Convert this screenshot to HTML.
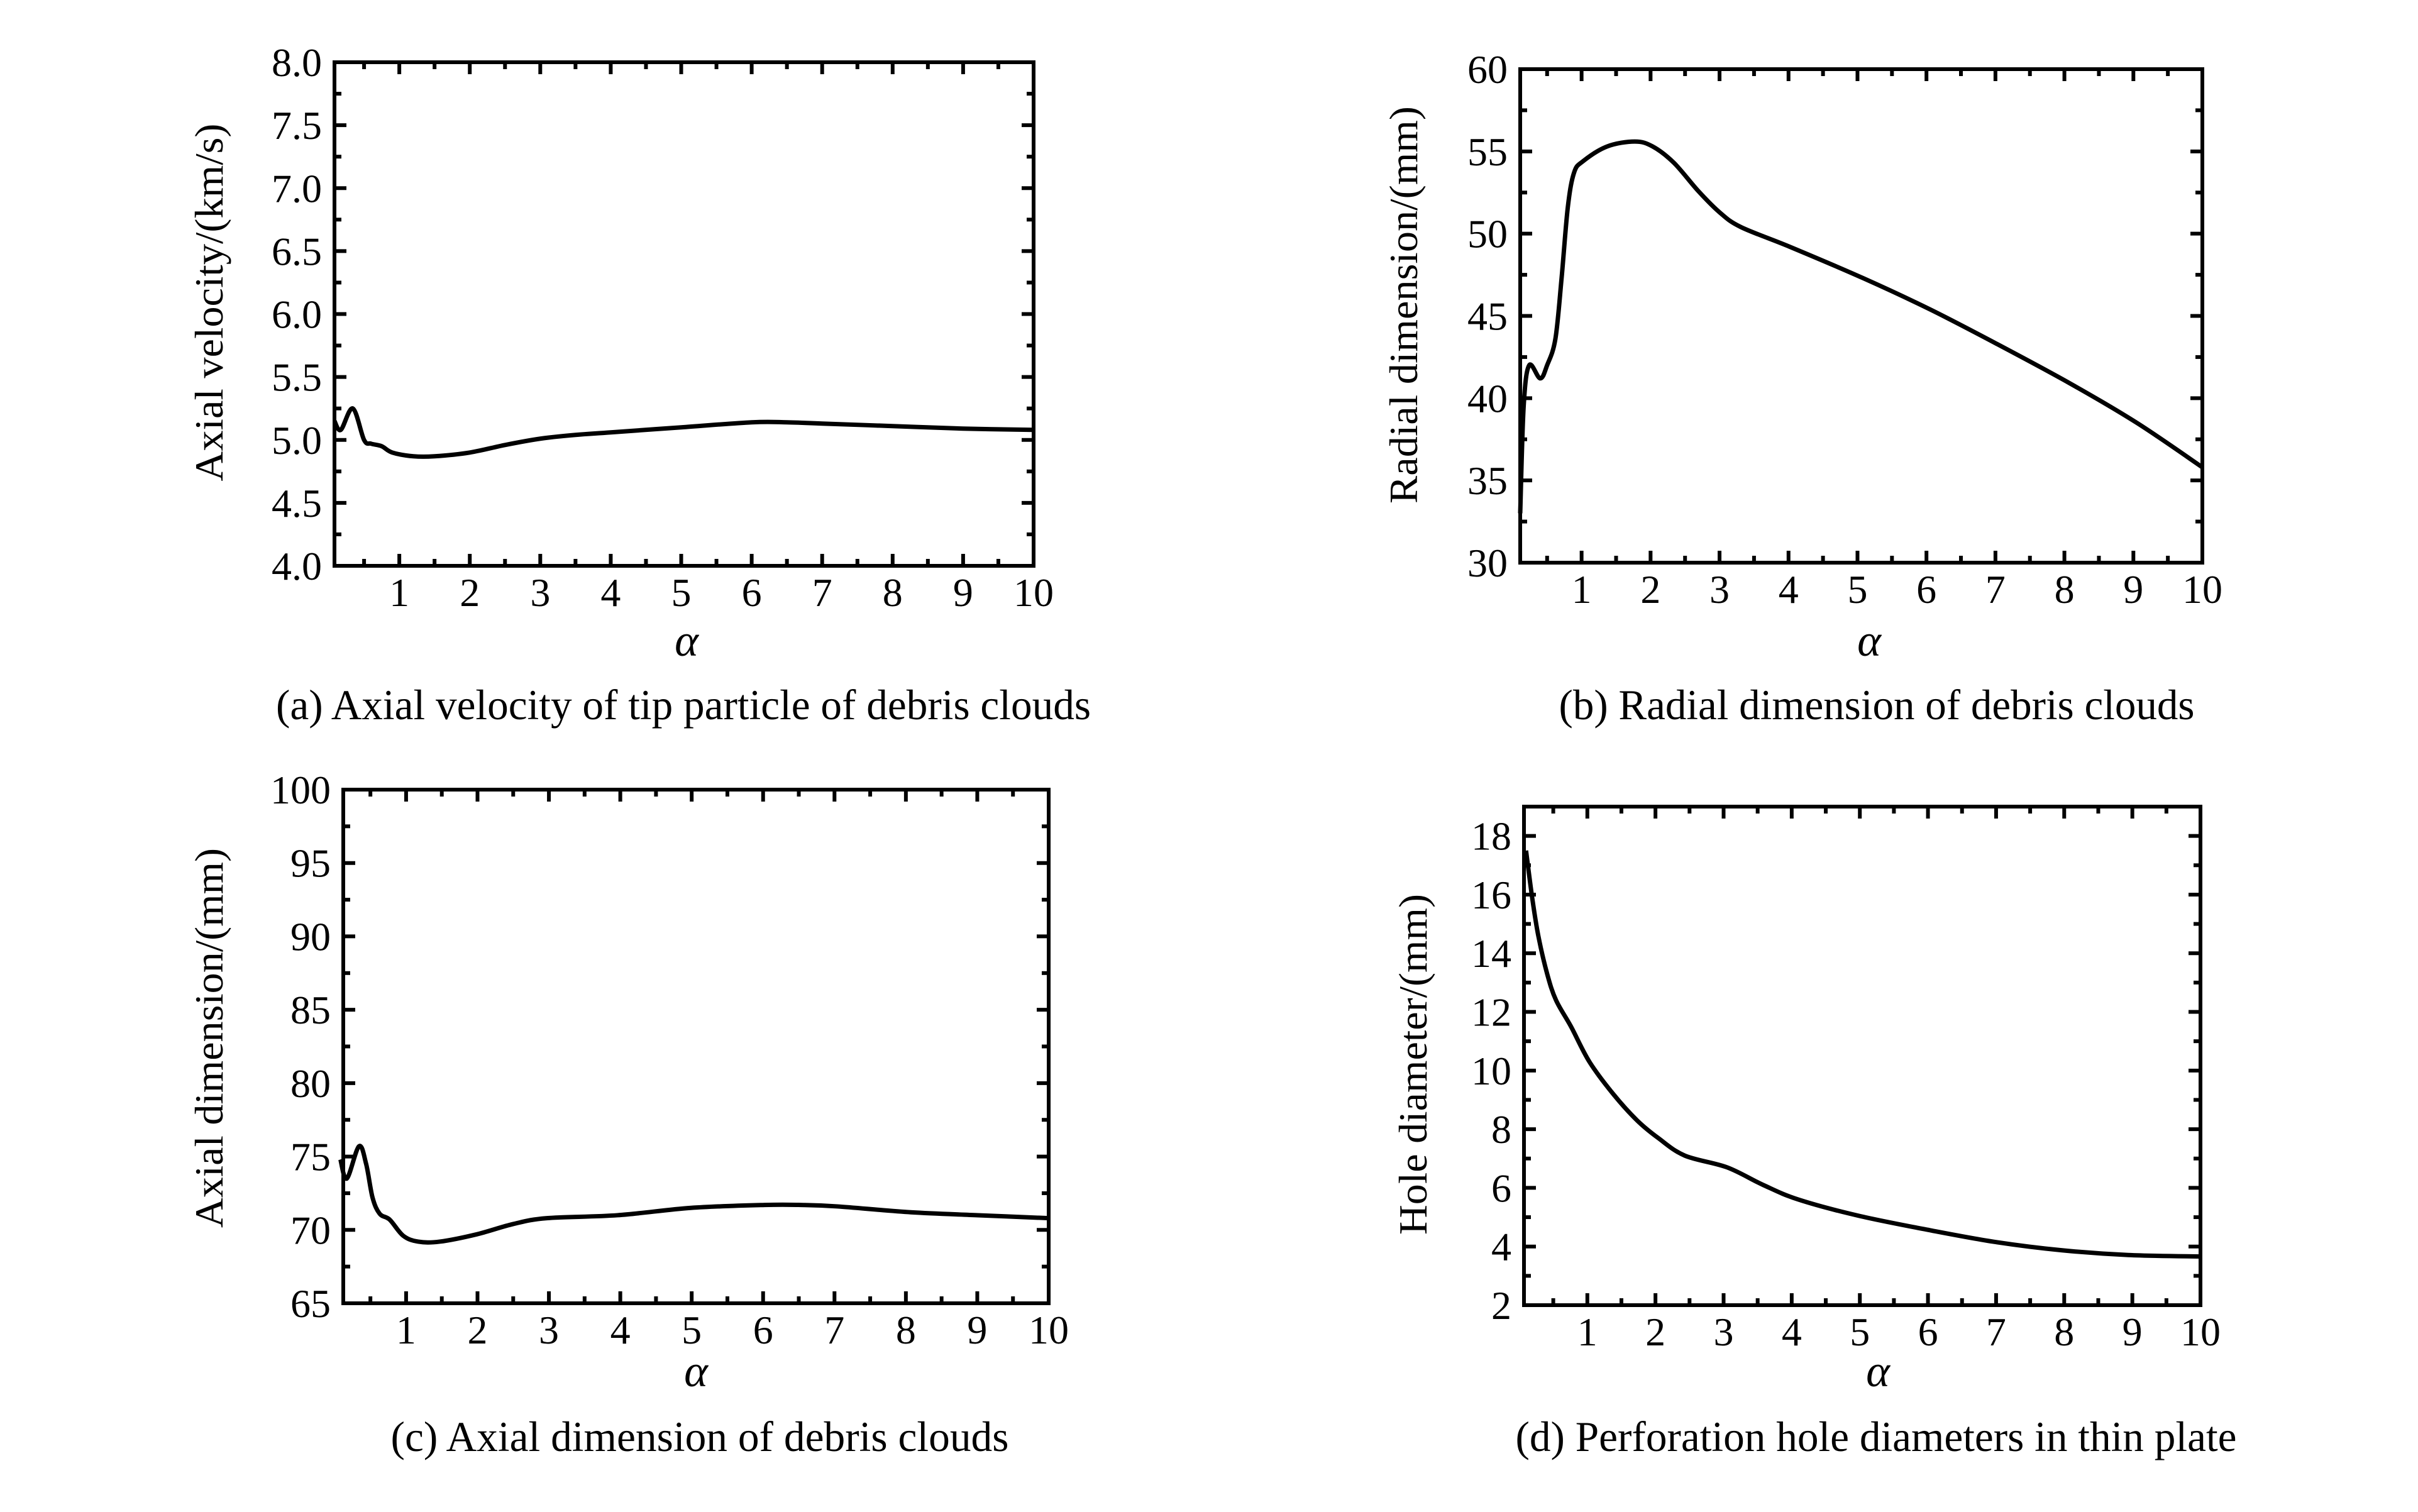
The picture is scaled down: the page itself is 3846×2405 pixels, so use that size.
<!DOCTYPE html>
<html><head><meta charset="utf-8"><style>
html,body{margin:0;padding:0;background:#fff;}
svg{display:block;}
text{font-family:"Liberation Serif",serif;fill:#000;}
</style></head><body>
<svg id="fig" width="3846" height="2405" viewBox="0 0 3846 2405" xmlns="http://www.w3.org/2000/svg"></svg>
<script>
// Panel (a) data
const aX = [0.08,0.17,0.34,0.5,0.6,0.75,0.9,1.2,1.5,2,2.5,3,3.5,4,5,6,6.5,7,8,9,10];
const aY = [5.15,5.08,5.25,5.0,4.97,4.95,4.9,4.87,4.87,4.9,4.96,5.01,5.04,5.06,5.1,5.14,5.14,5.13,5.11,5.09,5.08];
const aYTicks = ["4.0","4.5","5.0","5.5","6.0","6.5","7.0","7.5","8.0"];
// Panel (b) data
const bX = [0.11,0.16,0.24,0.4,0.5,0.62,0.71,0.8,0.89,1.02,1.37,1.77,2.03,2.34,2.69,3.0,3.31,4.02,5.08,6.05,7.02,8.08,9.05,10];
const bY = [33,39.5,42.0,41.2,42,43.6,47.3,51.6,53.7,54.4,55.3,55.6,55.3,54.3,52.6,51.3,50.4,49.2,47.3,45.4,43.3,40.9,38.5,35.8];
const bYTicks = ["30","35","40","45","50","55","60"];
// Panel (c) data
const cX = [0.08,0.17,0.34,0.44,0.53,0.63,0.77,0.96,1.17,1.47,1.99,2.5,2.97,3.96,4.99,6.02,6.53,7.04,8.07,9.01,10];
const cY = [74.8,73.5,75.7,74.5,72.2,71.1,70.7,69.6,69.2,69.2,69.7,70.4,70.8,71.0,71.5,71.7,71.7,71.6,71.2,71.0,70.8];
const cYTicks = ["65","70","75","80","85","90","95","100"];
// Panel (d) data
const dX = [0.1,0.19,0.28,0.41,0.54,0.76,1.03,1.38,1.73,2.04,2.43,3.05,3.58,4.1,4.98,6.04,7.0,7.97,8.94,10];
const dY = [17.5,15.9,14.6,13.3,12.4,11.5,10.3,9.2,8.3,7.7,7.1,6.7,6.1,5.6,5.05,4.55,4.15,3.87,3.71,3.66];
const dYTicks = ["2","4","6","8","10","12","14","16","18"];
const xTicks = ["1","2","3","4","5","6","7","8","9","10"];

const NS = "http://www.w3.org/2000/svg";
const fig = document.getElementById('fig');
function mk(tag, attrs, parent){const e=document.createElementNS(NS,tag);for(const k in attrs)e.setAttribute(k,attrs[k]);(parent||fig).appendChild(e);return e;}

function panel(p){
  const g = mk('g',{});
  
  
  const sx = v => p.L + (v - p.xmin)/(10 - p.xmin)*(p.R - p.L);
  const sy = v => p.B - (v - p.ymin)/(p.ymax - p.ymin)*(p.B - p.T);
  // frame
  const fr = mk('rect',{x:p.L,y:p.T,width:p.R-p.L,height:p.B-p.T,fill:'none',stroke:'#000','stroke-width':6},g);
  
  
  // x ticks
  for(let i=0;i<xTicks.length;i++){
    const v = +xTicks[i], x = sx(v);
    mk('line',{x1:x,y1:p.B,x2:x,y2:p.B-19,stroke:'#000','stroke-width':6},g);
    mk('line',{x1:x,y1:p.T,x2:x,y2:p.T+19,stroke:'#000','stroke-width':6},g);
    const xm = sx(v-0.5);
    mk('line',{x1:xm,y1:p.B,x2:xm,y2:p.B-11,stroke:'#000','stroke-width':6},g);
    mk('line',{x1:xm,y1:p.T,x2:xm,y2:p.T+11,stroke:'#000','stroke-width':6},g);
    const t = mk('text',{x:x,y:p.B+64,'font-size':64,'text-anchor':'middle'},g);
    t.textContent = xTicks[i];
    
    
  }
  // y ticks
  const yt = p.yTicks;
  for(let i=0;i<yt.length;i++){
    const v = +yt[i], y = sy(v);
    if(i>0&&i<yt.length-1||true){
      mk('line',{x1:p.L,y1:y,x2:p.L+19,y2:y,stroke:'#000','stroke-width':6},g);
      mk('line',{x1:p.R,y1:y,x2:p.R-19,y2:y,stroke:'#000','stroke-width':6},g);
    }
    if(i<yt.length-1){
      const step = (+yt[1]) - (+yt[0]);
      const ym = sy(v+step/2);
      mk('line',{x1:p.L,y1:ym,x2:p.L+11,y2:ym,stroke:'#000','stroke-width':6},g);
      mk('line',{x1:p.R,y1:ym,x2:p.R-11,y2:ym,stroke:'#000','stroke-width':6},g);
    }
    const t = mk('text',{x:p.L-20,y:y+22,'font-size':64,'text-anchor':'end'},g);
    t.textContent = yt[i];
    
    
  }
  // extra minor tick above last major for (d)
  if(p.ymax > +yt[yt.length-1]){
    const ym = sy(+yt[yt.length-1] + ((+yt[1])-(+yt[0]))/2);
    if(ym>p.T+5){
      mk('line',{x1:p.L,y1:ym,x2:p.L+11,y2:ym,stroke:'#000','stroke-width':6},g);
      mk('line',{x1:p.R,y1:ym,x2:p.R-11,y2:ym,stroke:'#000','stroke-width':6},g);
    }
  }
  // curve (catmull-rom)
  const pts = p.xs.map((v,i)=>[sx(v), sy(p.ys[i])]);
  let d = 'M'+pts[0][0]+','+pts[0][1];
  for(let i=0;i<pts.length-1;i++){
    const p0=pts[Math.max(0,i-1)],p1=pts[i],p2=pts[i+1],p3=pts[Math.min(pts.length-1,i+2)];
    const c1=[p1[0]+(p2[0]-p0[0])/6,p1[1]+(p2[1]-p0[1])/6];
    const c2=[p2[0]-(p3[0]-p1[0])/6,p2[1]-(p3[1]-p1[1])/6];
    d+=' C'+c1[0]+','+c1[1]+' '+c2[0]+','+c2[1]+' '+p2[0]+','+p2[1];
  }
  const path = mk('path',{d:d,fill:'none',stroke:'#000','stroke-width':7,'stroke-linejoin':'round'},g);
  
  
  // y title
  const yl = mk('text',{x:0,y:0,'font-size':64,'text-anchor':'middle',textLength:p.ytLen,lengthAdjust:'spacingAndGlyphs',transform:'translate('+(p.ytX+22)+','+p.ytY+') rotate(-90)'},g);
  yl.textContent = p.ytitle;
  
  
  // x title
  const xl = mk('text',{x:p.axX,y:p.axY,'font-size':72,'font-style':'italic','text-anchor':'middle'},g);
  xl.textContent = 'α';
  
  
  // caption
  const cp = mk('text',{x:p.capX,y:p.capY,'font-size':68,'text-anchor':'middle',textLength:p.capLen,lengthAdjust:'spacingAndGlyphs'},g);
  cp.textContent = p.cap;
  
  
}

panel({id:'a',L:532,R:1644,T:99,B:900,xmin:0.08,ymin:4,ymax:8,xs:aX,ys:aY,yTicks:aYTicks,
  ytitle:'Axial velocity/(km/s)',ytX:332,ytY:481,ytLen:569,axX:1092,axY:1043,
  cap:'(a) Axial velocity of tip particle of debris clouds',capX:1087,capY:1144,capLen:1296});
panel({id:'b',L:2418,R:3503,T:110,B:895,xmin:0.11,ymin:30,ymax:60,xs:bX,ys:bY,yTicks:bYTicks,
  ytitle:'Radial dimension/(mm)',ytX:2232,ytY:485,ytLen:632,axX:2973,axY:1043,
  cap:'(b) Radial dimension of debris clouds',capX:2985,capY:1144,capLen:1011});
panel({id:'c',L:546,R:1668,T:1256,B:2073,xmin:0.12,ymin:65,ymax:100,xs:cX,ys:cY,yTicks:cYTicks,
  ytitle:'Axial dimension/(mm)',ytX:332,ytY:1651,ytLen:604,axX:1107,axY:2205,
  cap:'(c) Axial dimension of debris clouds',capX:1113,capY:2308,capLen:983});
panel({id:'d',L:2424,R:3500,T:1283,B:2076,xmin:0.07,ymin:2,ymax:19,xs:dX,ys:dY,yTicks:dYTicks,
  ytitle:'Hole diameter/(mm)',ytX:2247,ytY:1693,ytLen:542,axX:2987,axY:2205,
  cap:'(d) Perforation hole diameters in thin plate',capX:2984,capY:2308,capLen:1147});
</script>
</body></html>
